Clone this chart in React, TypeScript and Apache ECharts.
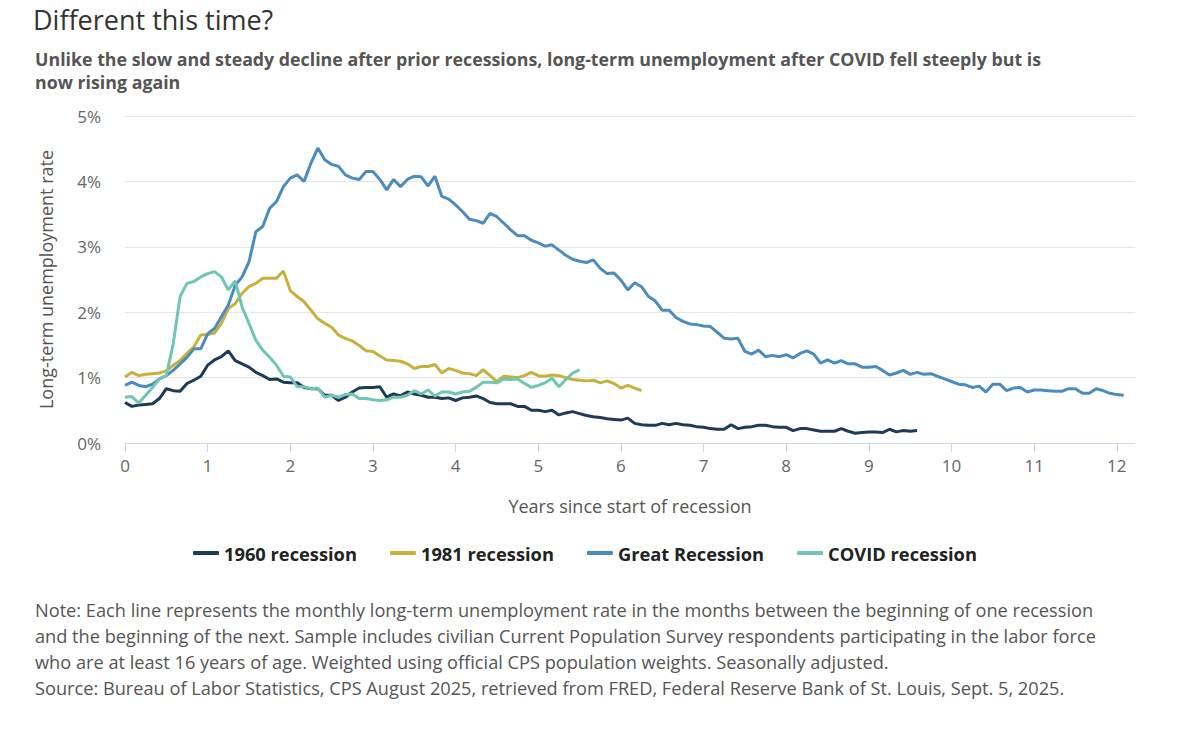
import React, { useEffect, useRef } from 'react';
import * as echarts from 'echarts';

// monthly long-term unemployment rate (%), month 0 = start of recession
const rate1960 = [
  0.62, 0.56, 0.58, 0.59, 0.6, 0.68, 0.83, 0.8, 0.79, 0.91,
  0.96, 1.02, 1.19, 1.27, 1.32, 1.41, 1.26, 1.21, 1.16, 1.08,
  1.03, 0.97, 0.98, 0.93, 0.92, 0.92, 0.85, 0.83, 0.83, 0.73,
  0.73, 0.65, 0.7, 0.78, 0.84, 0.85, 0.85, 0.86, 0.7, 0.75,
  0.72, 0.78, 0.75, 0.73, 0.7, 0.7, 0.68, 0.69, 0.65, 0.69,
  0.7, 0.72, 0.68, 0.62, 0.6, 0.6, 0.6, 0.56, 0.56, 0.5,
  0.5, 0.48, 0.5, 0.43, 0.46, 0.48, 0.45, 0.42, 0.4, 0.39,
  0.37, 0.36, 0.35, 0.38, 0.3, 0.28, 0.27, 0.27, 0.3, 0.28,
  0.3, 0.28, 0.27, 0.25, 0.24, 0.22, 0.21, 0.21, 0.28, 0.22,
  0.24, 0.25, 0.27, 0.27, 0.25, 0.24, 0.24, 0.19, 0.22, 0.22,
  0.2, 0.18, 0.18, 0.18, 0.22, 0.18, 0.15, 0.16, 0.17, 0.17,
  0.16, 0.21, 0.17, 0.19, 0.18, 0.19,
];

const rate1981 = [
  1.01, 1.08, 1.03, 1.05, 1.06, 1.07, 1.1, 1.19, 1.26, 1.37,
  1.47, 1.65, 1.66, 1.68, 1.83, 2.06, 2.13, 2.29, 2.39, 2.44,
  2.52, 2.52, 2.52, 2.63, 2.33, 2.24, 2.16, 2.03, 1.9, 1.83,
  1.77, 1.65, 1.6, 1.56, 1.49, 1.41, 1.4, 1.33, 1.27, 1.26,
  1.25, 1.21, 1.14, 1.17, 1.17, 1.2, 1.07, 1.14, 1.11, 1.07,
  1.06, 1.03, 1.12, 1.03, 0.94, 1.02, 1.01, 1.0, 1.03, 1.08,
  1.03, 1.02, 1.04, 1.03, 1.0, 0.97, 0.96, 0.95, 0.96, 0.92,
  0.95, 0.91, 0.84, 0.88, 0.84, 0.8,
];

const rateGreat = [
  0.88, 0.93, 0.88, 0.86, 0.9, 0.98, 1.03, 1.11, 1.21, 1.31,
  1.44, 1.44, 1.67, 1.75, 1.93, 2.11, 2.41, 2.54, 2.77, 3.23,
  3.31, 3.59, 3.69, 3.92, 4.05, 4.1, 4.0, 4.28, 4.51, 4.33,
  4.26, 4.23, 4.1, 4.05, 4.03, 4.15, 4.15, 4.03, 3.87, 4.03,
  3.92, 4.03, 4.08, 4.07, 3.93, 4.08, 3.77, 3.73, 3.64, 3.54,
  3.42, 3.4, 3.36, 3.51, 3.46, 3.36, 3.26, 3.17, 3.17, 3.1,
  3.06, 3.01, 3.03, 2.95, 2.87, 2.81, 2.78, 2.76, 2.8, 2.67,
  2.59, 2.6, 2.49, 2.34, 2.45, 2.39, 2.24, 2.17, 2.03, 2.03,
  1.92, 1.86, 1.82, 1.81, 1.79, 1.78, 1.69, 1.6, 1.59, 1.6,
  1.4, 1.36, 1.42, 1.32, 1.34, 1.32, 1.35, 1.3, 1.37, 1.41,
  1.36, 1.22, 1.27, 1.22, 1.26, 1.21, 1.21, 1.16, 1.16, 1.17,
  1.11, 1.04, 1.07, 1.11, 1.05, 1.08, 1.05, 1.06, 1.02, 0.98,
  0.94, 0.9, 0.89, 0.85, 0.87, 0.78, 0.9, 0.9, 0.8, 0.84,
  0.85, 0.78, 0.81, 0.81, 0.8, 0.79, 0.79, 0.83, 0.83, 0.76,
  0.76, 0.83, 0.8, 0.76, 0.74, 0.73,
];

const rateCovid = [
  0.7, 0.71, 0.61, 0.73, 0.85, 0.98, 1.03, 1.52, 2.24, 2.44,
  2.47, 2.54, 2.59, 2.62, 2.54, 2.34, 2.48, 2.08, 1.83, 1.57,
  1.42, 1.31, 1.19, 1.02, 1.01, 0.86, 0.86, 0.83, 0.84, 0.7,
  0.73, 0.7, 0.74, 0.75, 0.68, 0.68, 0.66, 0.65, 0.66, 0.7,
  0.7, 0.73, 0.8, 0.75, 0.81, 0.72, 0.78, 0.78, 0.75, 0.78,
  0.79, 0.85, 0.93, 0.93, 0.92, 0.98, 0.97, 0.98, 0.91, 0.85,
  0.88, 0.92, 0.99, 0.86, 0.97, 1.07, 1.12,
];

const seriesNames = ['1960 recession', '1981 recession', 'Great Recession', 'COVID recession'];
const seriesColors = ['#1d3a58', '#c9b03b', '#4a8bc0', '#6fc6b2'];
const yearTicks = [0, 1, 2, 3, 4, 5, 6, 7, 8, 9, 10, 11, 12];

const titleText = 'Different this time?';
const subtitleText =
  'Unlike the slow and steady decline after prior recessions, long-term unemployment after COVID fell steeply but is\nnow rising again';
const noteText = [
  'Note: Each line represents the monthly long-term unemployment rate in the months between the beginning of one recession',
  'and the beginning of the next. Sample includes civilian Current Population Survey respondents participating in the labor force',
  'who are at least 16 years of age. Weighted using official CPS population weights. Seasonally adjusted.',
  'Source: Bureau of Labor Statistics, CPS August 2025, retrieved from FRED, Federal Reserve Bank of St. Louis, Sept. 5, 2025.',
].join('\n');

const FONT = '"Open Sans", Lato, sans-serif';

const toPoints = (values: number[]) => values.map((v, i) => [i / 12, v]);

function App() {
  const chartRef = useRef<HTMLDivElement>(null);

  useEffect(() => {
    if (!chartRef.current) return undefined;

    const allSeries = [rate1960, rate1981, rateGreat, rateCovid];

    const option = {
      animation: false,
      textStyle: { fontFamily: FONT },
      graphic: [
        {
          type: 'text',
          left: 33,
          top: 6,
          style: { text: titleText, fontFamily: FONT, fontSize: 27, fill: '#333', fontWeight: 'normal' },
        },
        {
          type: 'text',
          left: 35,
          top: 47,
          style: {
            text: subtitleText,
            fontFamily: FONT,
            fontSize: 17.8,
            lineHeight: 23,
            fontWeight: 'bold',
            fill: '#555',
          },
        },
        {
          type: 'text',
          left: 35,
          top: 597,
          style: { text: noteText, fontFamily: FONT, fontSize: 18.2, lineHeight: 26, fill: '#555' },
        },
      ],
      legend: {
        data: seriesNames,
        left: 188,
        top: 539,
        itemWidth: 26,
        itemHeight: 4,
        itemGap: 33,
        icon: 'roundRect',
        textStyle: { fontSize: 18.3, fontWeight: 'bold', color: '#222', fontFamily: FONT },
      },
      grid: { left: 125, right: 65, top: 116, bottom: 306 },
      xAxis: {
        type: 'value',
        min: 0,
        max: 12.22,
        interval: 1,
        name: 'Years since start of recession',
        nameLocation: 'middle',
        nameGap: 54,
        nameTextStyle: { fontSize: 18, color: '#555' },
        axisLine: { show: true, lineStyle: { color: '#ccd6eb', width: 1 } },
        axisTick: { show: true, length: 9, lineStyle: { color: '#ccd6eb' }, customValues: yearTicks },
        axisLabel: { fontSize: 17, color: '#666', margin: 14, customValues: yearTicks },
        splitLine: { show: false },
      },
      yAxis: {
        type: 'value',
        min: 0,
        max: 5,
        interval: 1,
        name: 'Long-term unemployment rate',
        nameLocation: 'middle',
        nameGap: 70,
        nameTextStyle: { fontSize: 18, color: '#555' },
        axisLine: { show: false },
        axisTick: { show: false },
        axisLabel: { fontSize: 17, color: '#666', margin: 24, formatter: '{value}%' },
        splitLine: { lineStyle: { color: '#e6e6e6', width: 1 } },
      },
      series: allSeries.map((values, i) => ({
        name: seriesNames[i],
        type: 'line',
        data: toPoints(values),
        showSymbol: false,
        color: seriesColors[i],
        lineStyle: { width: 3, color: seriesColors[i] },
      })),
    };

    const myChart = echarts.init(chartRef.current, null, { renderer: 'svg' });
    myChart.setOption(option);

    return () => {
      myChart.dispose();
    };
  }, []);

  return (
    <div
      ref={chartRef}
      style={{ position: 'fixed', left: 0, top: 0, width: '1200px', height: '749px', background: '#fff' }}
    />
  );
}

export default App;
